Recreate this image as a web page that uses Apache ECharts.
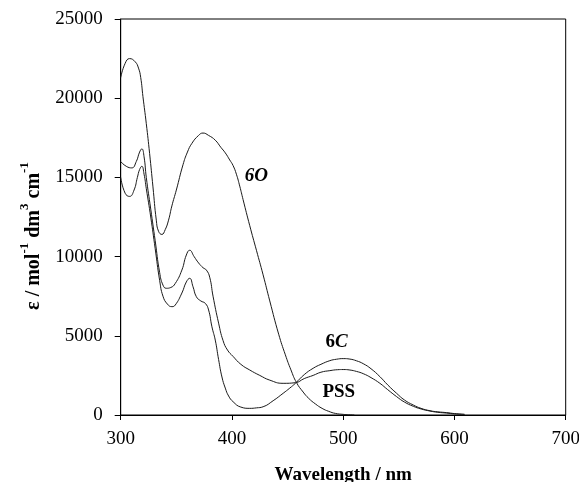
<!DOCTYPE html>
<html><head><meta charset="utf-8">
<script src="https://cdn.jsdelivr.net/npm/echarts@6/dist/echarts.min.js"></script>
<style>html,body{margin:0;padding:0;background:#fff}#c{width:579px;height:482px}</style>
</head><body><div id="c"></div>
<script>
var xTicks = [300, 400, 500, 600, 700];
var yTicks = [0, 5000, 10000, 15000, 20000, 25000];

var wl6O  = [300,304,308,313,316,318,320,323,326,329,332,334,337,340,343,346,350,356,360,364,370,374,379,385,390,394,398,401,404,407,410,416,422,428,434,442,448,453,458,464,469,475,481,487,493,500,505,510];
var eps6O = [21300,22200,22500,22300,21900,21300,20100,18400,16500,14400,12300,11600,11400,11700,12300,13200,14200,15800,16600,17150,17650,17800,17650,17350,16900,16550,16100,15750,15200,14450,13600,11950,10400,8850,7200,5100,3800,2850,2050,1450,1050,700,420,230,100,40,15,0];

var wlPSS  = [300,305,310,314,317,319,321,323,327,331,335,338,341,345,349,355,359,362,366,370,374,377,380,383,388,392,396,401,408,416,425,434,446,457,465,473,480,488,495,500,506,512,518,525,533,540,548,555,563,570,578,585,593,600,609];
var epsPSS = [16000,15700,15600,16000,16600,16800,16300,15000,13000,11000,9000,8200,8000,8050,8300,9150,10100,10400,10000,9600,9300,9150,8700,7500,5800,4700,4100,3700,3200,2840,2500,2200,2000,2040,2300,2500,2700,2800,2860,2870,2840,2750,2610,2360,2000,1600,1160,820,550,380,250,170,120,70,40];

var wl6C  = [300,304,308,312,315,317,319,321,323,327,331,335,338,342,346,349,355,359,362,365,368,372,376,379,382,385,388,391,394,397,401,408,416,422,428,437,446,452,457,465,473,480,488,494,500,506,512,518,525,533,540,548,555,563,570,578,585,593,600,609];
var eps6C = [15000,14000,13800,14200,15000,15500,15700,15200,14300,12500,10500,8500,7500,7000,6840,6940,7700,8400,8630,8100,7470,7200,7050,6630,5570,4730,3500,2400,1700,1200,840,500,420,450,520,900,1370,1700,2000,2550,2950,3200,3430,3520,3560,3530,3420,3240,2920,2420,1900,1370,950,630,420,270,200,150,90,40];

function pairs(xs, ys){ return xs.map(function(x,i){ return [x, ys[i]]; }); }

var serif = '"Liberation Serif","DejaVu Serif",serif';
var chart = echarts.init(document.getElementById('c'));
var lineStyle = {color:'#1a1a1a', width:1};
function mk(name, xs, ys, labelText, lx, ly){
  return {
    name:name, type:'line', data:pairs(xs,ys), smooth:0.5, showSymbol:false, symbol:'none',
    lineStyle:lineStyle, silent:true, animation:false,
    markPoint:{
      symbol:'circle', symbolSize:1, itemStyle:{color:'rgba(0,0,0,0)'}, silent:true, animation:false,
      label:{show:true, position:'inside', offset:[0,1], formatter:labelText, color:'#000', fontFamily:serif, fontSize:19, fontWeight:'bold',
        rich:{i:{fontStyle:'italic', fontWeight:'bold', fontFamily:serif, fontSize:19, color:'#000'},
              b:{fontWeight:'bold', fontFamily:serif, fontSize:19, color:'#000'}}},
      data:[{coord:[lx, ly]}]
    }
  };
}
chart.setOption({
  animation:false,
  backgroundColor:'#fff',
  grid:{left:120.7, right:13.3, top:19, bottom:67, show:true, borderColor:'#000', borderWidth:1, backgroundColor:'transparent', containLabel:false, outerBoundsMode:'none'},
  graphic:[{
    type:'text', x:31, y:236, rotation:Math.PI/2, silent:true,
    style:{
      text:'{b|ε / mol}{s|-1}{b| dm}{s|3}{b| cm}{s|-1}', align:'center', verticalAlign:'middle',
      fill:'#000', font:'bold 20px ' + serif,
      rich:{b:{fontFamily:serif, fontSize:20, fontWeight:'bold', fill:'#000', lineHeight:25, verticalAlign:'bottom'},
            s:{fontFamily:serif, fontSize:13, fontWeight:'bold', fill:'#000', lineHeight:25, verticalAlign:'top'}}
    }
  }],
  xAxis:{type:'value', min:xTicks[0], max:xTicks[xTicks.length-1], interval:100,
    axisLine:{show:true, lineStyle:{color:'#000', width:1}}, axisTick:{show:true, length:5, lineStyle:{color:'#000'}},
    splitLine:{show:false},
    axisLabel:{color:'#000', fontFamily:serif, fontSize:19, margin:15, formatter:function(v){return String(v);}},
    name:'Wavelength / nm', nameLocation:'middle', nameGap:51,
    nameTextStyle:{color:'#000', fontFamily:serif, fontSize:19, fontWeight:'bold'}},
  yAxis:{type:'value', min:yTicks[0], max:yTicks[yTicks.length-1], interval:5000,
    axisLine:{show:true, lineStyle:{color:'#000', width:1}}, axisTick:{show:true, length:6, lineStyle:{color:'#000'}},
    splitLine:{show:false},
    axisLabel:{color:'#000', fontFamily:serif, fontSize:19, margin:18, formatter:function(v){return String(v);}}},
  series:[
    mk('6O', wl6O, eps6O, '{i|6O}', 422, 15150),
    mk('6C', wl6C, eps6C, '{b|6}{i|C}', 494, 4640),
    mk('PSS', wlPSS, epsPSS, '{b|PSS}', 496, 1480)
  ]
});
</script></body></html>
